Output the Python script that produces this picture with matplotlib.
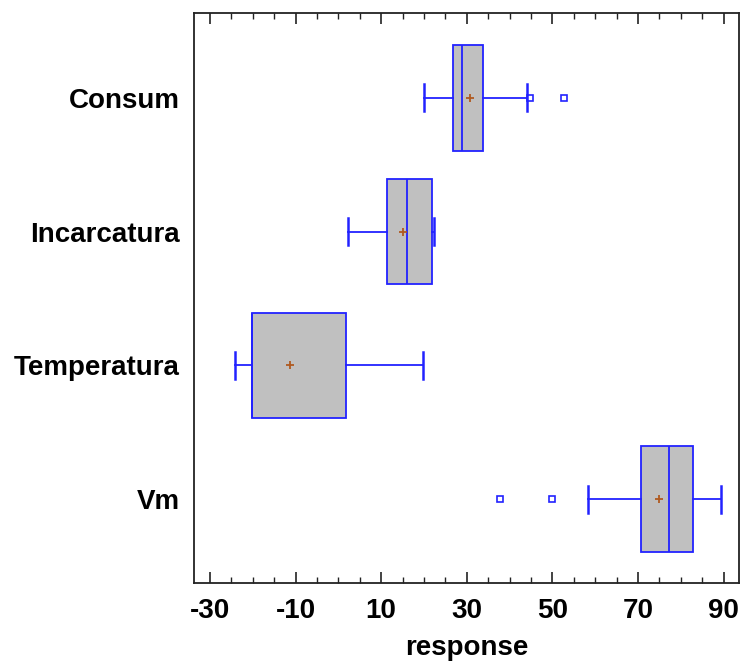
import matplotlib
matplotlib.use("Agg")
import matplotlib.pyplot as plt
from matplotlib.ticker import MultipleLocator

# categories bottom -> top
categories = ["Vm", "Temperatura", "Incarcatura", "Consum"]
q1 = [70.6, -20.1, 11.4, 26.9]
medians = [77.3, -20.1, 16.1, 29.0]
q3 = [82.9, 1.8, 22.0, 33.9]
whisk_lo = [58.3, -24.2, 2.3, 20.0]
whisk_hi = [89.4, 19.9, 22.4, 44.1]
means = [75.0, -11.4, 15.0, 30.8]
outliers = [[37.8, 50.0], [], [], [44.8, 52.8]]

xticks = [-30, -10, 10, 30, 50, 70, 90]

plt.rcParams["font.family"] = ["Liberation Sans", "DejaVu Sans"]
plt.rcParams["font.weight"] = "bold"

blue = "#2222ff"

fig = plt.figure(figsize=(7.4, 6.62), dpi=100)
ax = fig.add_axes([0.262, 0.1193, 0.7366, 0.8611])

stats = []
for i, name in enumerate(categories):
    stats.append({
        "label": name,
        "q1": q1[i], "med": medians[i], "q3": q3[i],
        "whislo": whisk_lo[i], "whishi": whisk_hi[i],
        "mean": means[i], "fliers": outliers[i],
    })

ax.bxp(stats, positions=[1, 2, 3, 4], widths=0.79, capwidths=0.2,
       orientation="horizontal", patch_artist=True, showmeans=True,
       boxprops=dict(facecolor="#c0c0c0", edgecolor=blue, linewidth=1.3),
       medianprops=dict(color=blue, linewidth=1.3),
       whiskerprops=dict(color=blue, linewidth=1.3),
       capprops=dict(color=blue, linewidth=1.8),
       meanprops=dict(marker="+", markeredgecolor="#b05a20", markersize=6,
                      markeredgewidth=1.3),
       flierprops=dict(marker="s", markerfacecolor="none", markeredgecolor=blue,
                       markersize=4, markeredgewidth=1.2))

ax.set_xlim(-33.74, 93.6)
ax.set_ylim(0.374, 4.633)
ax.set_xticks(xticks)
ax.set_xticklabels([str(t) for t in xticks])
ax.xaxis.set_minor_locator(MultipleLocator(5))
ax.tick_params(axis="x", which="major", direction="in", length=8, width=1.2,
               top=True, labelsize=20, pad=11, color="#222222")
ax.tick_params(axis="x", which="minor", direction="in", length=4, width=1.0,
               top=True, color="#222222")
ax.tick_params(axis="y", length=0, labelsize=20, pad=10)
ax.set_xlabel("response", fontsize=20, fontweight="bold", labelpad=8)

for s in ax.spines.values():
    s.set_linewidth(1.3)
    s.set_color("#222222")

fig.savefig("out.png", dpi=100)
